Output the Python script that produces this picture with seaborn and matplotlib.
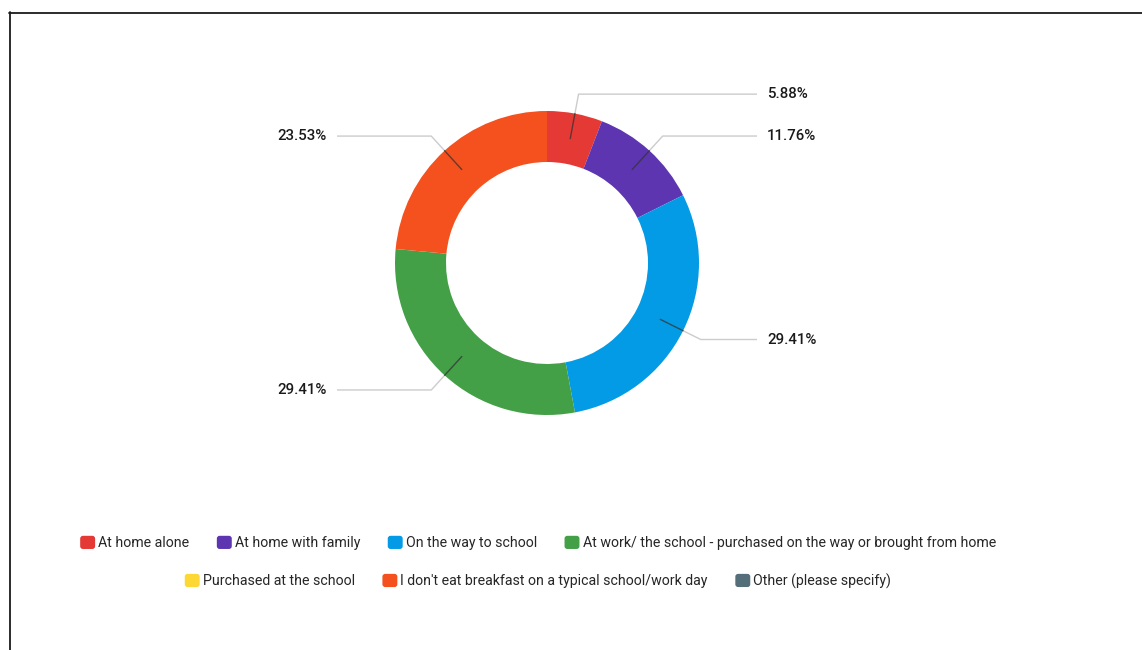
import numpy as np
import matplotlib
matplotlib.use("Agg")
import matplotlib.pyplot as plt
import seaborn as sns
from matplotlib.patches import FancyBboxPatch, Patch
from matplotlib.legend_handler import HandlerPatch
from matplotlib.lines import Line2D

# Where breakfast is eaten on a typical school/work day (share of respondents, %)
categories = [
    "At home alone",
    "At home with family",
    "On the way to school",
    "At work/ the school - purchased on the way or brought from home",
    "Purchased at the school",
    "I don't eat breakfast on a typical school/work day",
    "Other (please specify)",
]
shares = [5.88, 11.76, 29.41, 29.41, 0.0, 23.53, 0.0]
colors = ["#e53935", "#5e35b1", "#039be5", "#43a047", "#fdd835", "#f4511e", "#546e7a"]

sns.set_theme(style="white")
plt.rcParams["font.family"] = ["Roboto", "DejaVu Sans"]
palette = sns.color_palette(colors)

W, H = 1142, 650
fig = plt.figure(figsize=(W / 100, H / 100), dpi=100)
fig.patch.set_facecolor("white")
ax = fig.add_axes([0, 0, 1, 1])

# pixel-based data space, donut centred in the upper part of the canvas
cx, cy = 547, 263
R, ring = 152, 51

wedges, _ = ax.pie(
    shares,
    colors=palette,
    startangle=90,
    counterclock=False,
    radius=R,
    wedgeprops=dict(width=ring, linewidth=0),
)
ax.set_xlim(-cx, W - cx)
ax.set_ylim(-(H - cy), cy)
ax.set_aspect("equal")
ax.axis("off")

# leader lines with value labels
total = sum(shares)
cum = 0.0
r_mid = R - ring / 2
r_elbow = 1.13 * R
x_reach = 210
for v in shares:
    if v > 0:
        ang = np.deg2rad(90 - 360 * (cum + v / 2) / total)
        ux, uy = np.cos(ang), np.sin(ang)
        side = 1 if ux >= 0 else -1
        ex, ey = r_elbow * ux, r_elbow * uy
        ax.plot([r_mid * ux, ex, side * x_reach], [r_mid * uy, ey, ey],
                color="#cccccc", lw=1.0, zorder=0.5, solid_capstyle="butt")
        ax.plot([r_mid * ux, R * ux], [r_mid * uy, R * uy],
                color="#333333", alpha=0.75, lw=1.0, zorder=3)
        ax.text(side * (x_reach + 10), ey, f"{v:.2f}%",
                ha="left" if side > 0 else "right", va="center",
                fontsize=10.8, color="#1a1a1a", fontweight="medium")
    cum += v

# frame along the top and left edges
fig.add_artist(Line2D([9 / W, 1], [1 - 12.5 / H] * 2, transform=fig.transFigure,
                      color="#1a1a1a", lw=1.3))
fig.add_artist(Line2D([9.5 / W] * 2, [0, 1 - 12 / H], transform=fig.transFigure,
                      color="#1a1a1a", lw=1.3))


class RoundedSquare(HandlerPatch):
    def create_artists(self, legend, orig_handle, xdescent, ydescent,
                       width, height, fontsize, trans):
        p = FancyBboxPatch((-xdescent, -ydescent), width, height,
                           boxstyle="round,pad=0,rounding_size=2",
                           facecolor=orig_handle.get_facecolor(),
                           edgecolor="none", transform=trans)
        return [p]


handles = [Patch(facecolor=c) for c in palette]
legend_kw = dict(
    loc="center", frameon=False, fontsize=10.15, labelcolor="#262626",
    handlelength=1.06, handleheight=1.06, handletextpad=0.22,
    columnspacing=1.95, borderpad=0, borderaxespad=0,
    handler_map={Patch: RoundedSquare()},
)
fig.legend(handles[:4], categories[:4], ncol=4,
           bbox_to_anchor=(538 / W, 1 - 543 / H), **legend_kw)
fig.legend(handles[4:], categories[4:], ncol=3,
           bbox_to_anchor=(538 / W, 1 - 581 / H), **legend_kw)

fig.savefig("out.png", dpi=100, facecolor="white")
